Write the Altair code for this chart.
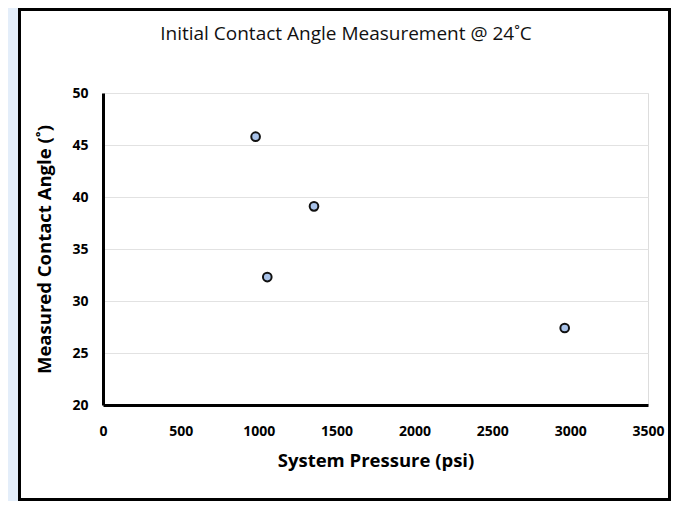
import altair as alt
import pandas as pd

pressure = [980, 1355, 1055, 2965]
angle = [45.8, 39.1, 32.3, 27.4]
x_ticks = [0, 500, 1000, 1500, 2000, 2500, 3000, 3500]
y_ticks = [20, 25, 30, 35, 40, 45, 50]
chart_title = ["Initial Contact Angle Measurement @ 24˚C"]

df = pd.DataFrame({"pressure": pressure, "angle": angle})

W, H = 545, 312
PL, PT, PR, PB = 95, 85, 23, 96  # svg: 663 x 493

base = alt.Chart(df)

strip = base.mark_rect(color="#e4eefa").encode(
    x=alt.value(-PL), x2=alt.value(-PL + 10),
    y=alt.value(-PT), y2=alt.value(H + PB),
)
frame = base.mark_rect(fill="white", fillOpacity=0, stroke="black", strokeWidth=3).encode(
    x=alt.value(-PL + 11.5), x2=alt.value(W + PR - 1.5),
    y=alt.value(-PT + 1.5), y2=alt.value(H + PB - 1.5),
)

title_txt = alt.Chart(pd.DataFrame({"t": chart_title})).mark_text(
    font="Open Sans", fontSize=19, fontWeight="normal", color="#111111",
    align="center", baseline="middle",
).encode(x=alt.value(243), y=alt.value(-59), text="t:N")

pts = base.mark_point(shape="circle", filled=True, fill="#a9c3ea", stroke="#111111",
                      strokeWidth=2, size=75, opacity=1).encode(
    x=alt.X("pressure:Q", scale=alt.Scale(domain=[0, 3500], nice=False),
            axis=alt.Axis(title="System Pressure (psi)", values=x_ticks, format="d",
                          grid=False, ticks=False, domainColor="black", domainWidth=3,
                          labelFlush=False,
                          labelFont="Open Sans", labelFontWeight="bold", labelFontSize=14,
                          labelColor="black", labelPadding=19,
                          titleFont="Open Sans", titleFontWeight="bold", titleFontSize=18.5,
                          titleColor="black", titlePadding=13)),
    y=alt.Y("angle:Q", scale=alt.Scale(domain=[20, 50], nice=False),
            axis=alt.Axis(title="Measured Contact Angle (˚)", values=y_ticks, format="d",
                          grid=True, gridColor="#e2e2e2", gridWidth=1, ticks=False,
                          domainColor="black", domainWidth=3, labelFlush=False,
                          labelFont="Open Sans", labelFontWeight="bold", labelFontSize=14,
                          labelColor="black", labelPadding=15,
                          titleFont="Open Sans", titleFontWeight="bold", titleFontSize=18.5,
                          titleColor="black", titlePadding=17)),
)

chart = alt.layer(strip, frame, title_txt, pts).properties(
    width=W, height=H,
    autosize=alt.AutoSizeParams(type="none"),
    padding={"left": PL, "top": PT, "right": PR, "bottom": PB},
).configure_view(stroke=None).configure(background="white")

chart.save("out.html", embed_options={"renderer": "svg", "actions": False})
